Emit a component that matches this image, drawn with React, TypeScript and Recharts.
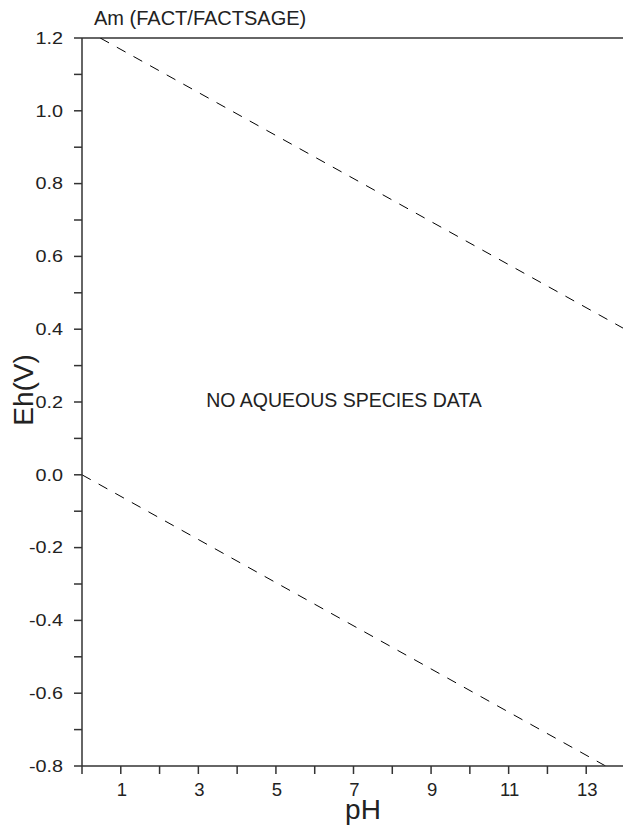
import { Label, Line, LineChart, ReferenceLine, XAxis, YAxis } from "recharts";

const TITLE = "Am (FACT/FACTSAGE)";
const NOTE = "NO AQUEOUS SPECIES DATA";

// water stability limits
const upperLine = [
  { pH: 0.47, Eh: 1.2 },
  { pH: 14, Eh: 0.4 },
];
const lowerLine = [
  { pH: 0, Eh: 0 },
  { pH: 13.5, Eh: -0.8 },
];

const xTicks = [0, 1, 2, 3, 4, 5, 6, 7, 8, 9, 10, 11, 12, 13, 14];
const yTicks = [
  -0.8, -0.7, -0.6, -0.5, -0.4, -0.3, -0.2, -0.1, 0, 0.1, 0.2, 0.3, 0.4, 0.5,
  0.6, 0.7, 0.8, 0.9, 1.0, 1.1, 1.2,
];

const FONT = "'Liberation Sans', Arial, sans-serif";
const AXIS = "#333";

function XTick({ x, y, payload }: any) {
  const v = payload.value as number;
  if (v % 2 === 0) return null;
  return (
    <text x={x + 1} y={y + 22} textAnchor="middle" fontSize={18.5} fontFamily={FONT} fill="#222">
      {v}
    </text>
  );
}

// the y labels in the source are a little wider than tall
function YTick({ x, y, payload }: any) {
  const v = payload.value as number;
  if (Math.round(v * 10) % 2 !== 0) return null;
  return (
    <text
      transform={`translate(${x},${y + 5.8}) scale(1.2,1)`}
      textAnchor="end"
      fontSize={16.5}
      fontFamily={FONT}
      fill="#222"
    >
      {v.toFixed(1)}
    </text>
  );
}

export default function App() {
  return (
    <div
      style={{
        position: "absolute",
        left: 0,
        top: 0,
        width: 623,
        height: 831,
        overflow: "hidden",
        background: "#fff",
      }}
    >
      <LineChart
        width={640}
        height={831}
        margin={{ top: 38, right: 15, bottom: 0, left: 0 }}
      >
        <XAxis
          type="number"
          dataKey="pH"
          domain={[0, 14]}
          ticks={xTicks}
          interval={0}
          allowDataOverflow
          height={65}
          tickSize={8}
          tickMargin={0}
          stroke={AXIS}
          strokeWidth={1.5}
          tick={<XTick />}
        >
          <Label
            content={() => (
              <text x={363} y={819} textAnchor="middle" fontSize={28} fontFamily={FONT} fill="#222">
                pH
              </text>
            )}
          />
        </XAxis>
        <YAxis
          type="number"
          dataKey="Eh"
          domain={[-0.8, 1.2]}
          ticks={yTicks}
          interval={0}
          allowDataOverflow
          width={82}
          tickSize={8}
          tickMargin={11}
          stroke={AXIS}
          strokeWidth={1.5}
          tick={<YTick />}
        >
          <Label
            content={() => (
              <text
                x={33}
                y={390}
                transform="rotate(-90 33 390)"
                textAnchor="middle"
                fontSize={28}
                fontFamily={FONT}
                fill="#222"
              >
                Eh(V)
              </text>
            )}
          />
        </YAxis>
        <ReferenceLine y={1.2} stroke={AXIS} strokeWidth={1.5} />
        <Line
          data={upperLine}
          dataKey="Eh"
          type="linear"
          stroke="#000"
          strokeWidth={1}
          strokeDasharray="10 9"
          dot={false}
          activeDot={false}
          isAnimationActive={false}
        />
        <Line
          data={lowerLine}
          dataKey="Eh"
          type="linear"
          stroke="#000"
          strokeWidth={1}
          strokeDasharray="10 9"
          dot={false}
          activeDot={false}
          isAnimationActive={false}
        />
      </LineChart>
      <svg
        width={623}
        height={831}
        style={{ position: "absolute", left: 0, top: 0, pointerEvents: "none" }}
      >
        <text x={94} y={25} fontSize={20} fontFamily={FONT} fill="#222">
          {TITLE}
        </text>
        <text x={344} y={407} textAnchor="middle" fontSize={19.5} fontFamily={FONT} fill="#222">
          {NOTE}
        </text>
      </svg>
    </div>
  );
}
